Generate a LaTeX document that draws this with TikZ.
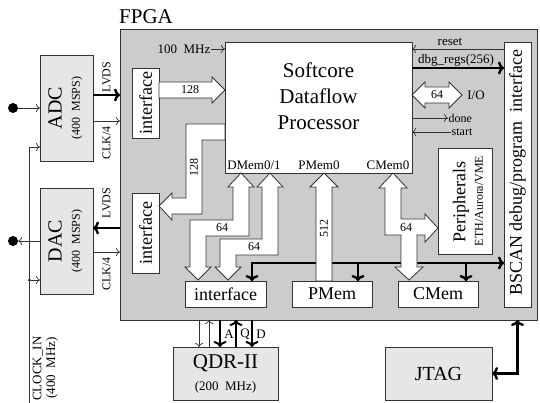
\documentclass[tikz,border=0pt]{standalone}
\usepackage{fontspec}
\setmainfont{Liberation Serif}
\usetikzlibrary{arrows.meta,calc}
\definecolor{fpgagray}{HTML}{CCCCCC}
\definecolor{chipgray}{HTML}{E6E6E6}
\definecolor{edge}{HTML}{333333}
\newcommand\fsz[2]{\fontsize{#1}{#2}\selectfont}

\begin{document}
\begin{tikzpicture}[x=1pt,y=-1pt,
  blk/.style={draw=edge, line width=0.9pt, inner sep=0pt, outer sep=0pt, fill=white},
  chip/.style={blk, fill=chipgray},
  thinwire/.style={draw=edge, line width=0.7pt, -{To[length=4pt,width=8pt]}},
  thickwire/.style={draw=black, line width=2.4pt, -{To[length=6pt,width=13pt]}},
  boththick/.style={draw=black, line width=2.4pt, {To[length=6pt,width=13pt]}-{To[length=6pt,width=13pt]}},
  wide/.style={draw=edge, line width=0.8pt, fill=white, line join=miter},
  lbl/.style={inner sep=0.5pt, font=\fsz{13}{15}},
  tiny/.style={inner sep=0.5pt, font=\fsz{12}{13}},
  big/.style={inner sep=0pt, font=\fsz{21}{26}},
  mid/.style={inner sep=0pt, font=\fsz{18}{20}},
  small/.style={inner sep=0pt, font=\fsz{12}{14}},
]
\useasboundingbox (0,0) rectangle (540,403);

% FPGA area
\node[blk, fill=fpgagray, minimum width=417pt, minimum height=291pt] (fpga) at (328.5,174.5) {};
\node[anchor=base west, inner sep=0pt, font=\fsz{21}{24}] (fpgalbl) at (119,24) {FPGA};

% external chips
\node[chip, minimum width=53pt, minimum height=106pt] (adc) at (66.5,108) {};
\node[big, font=\fsz{20}{22}, rotate=90] (adct) at (55,108) {ADC};
\node[small, rotate=90] (adcs) at (77,108) {(400~~MSPS)};
\node[chip, minimum width=53pt, minimum height=106pt] (dac) at (66.5,241) {};
\node[big, font=\fsz{20}{22}, rotate=90] (dact) at (55,241) {DAC};
\node[small, rotate=90] (dacs) at (77,241) {(400~~MSPS)};
\node[chip, minimum width=105pt, minimum height=53pt] (qdr) at (225.5,373.5) {};
\node[big] (qdrt) at (225.5,363) {QDR-II};
\node[small, font=\fsz{13}{15}] (qdrs) at (225.5,387) {(200~~MHz)};
\node[chip, minimum width=107pt, minimum height=53pt] (jtag) at (438.5,373.5) {};
\node[big, font=\fsz{20}{22}] (jtagt) at (438.5,374) {JTAG};

% blocks inside the FPGA
\node[blk, minimum width=27pt, minimum height=70pt] (ifA) at (145.5,103) {};
\node[mid, rotate=90] (ifAt) at (145.5,103) {interface};
\node[blk, minimum width=27pt, minimum height=80pt] (ifB) at (145.5,233) {};
\node[mid, rotate=90] (ifBt) at (145.5,233) {interface};
\node[blk, minimum width=187pt, minimum height=131pt] (proc) at (318.5,107.5) {};
\node[big, align=center] (proct) at (318.5,96) {Softcore\\Dataflow\\Processor};
\node[lbl, anchor=base] (dm) at (254,170) {DMem0/1};
\node[lbl, anchor=base] (pm) at (319,170) {PMem0};
\node[lbl, anchor=base] (cm) at (388,170) {CMem0};
\node[blk, minimum width=27pt, minimum height=265pt] (bscan) at (517.5,174.5) {};
\node[mid, rotate=90] (bscant) at (517.5,172.5) {BSCAN~debug/program~~interface};
\node[blk, minimum width=54pt, minimum height=106pt] (periph) at (465,201) {};
\node[mid, rotate=90] (periphA) at (461,202) {Peripherals};
\node[small, rotate=90] (periphB) at (479,201) {ETH/Aurora/VME};
\node[blk, minimum width=81pt, minimum height=26pt] (ifC) at (225.5,294) {};
\node[mid] (ifCt) at (225.5,294) {interface};
\node[blk, minimum width=80pt, minimum height=26pt] (pmem) at (332,294) {};
\node[mid] (pmemt) at (332,294) {PMem};
\node[blk, minimum width=80pt, minimum height=26pt] (cmem) at (438,294) {};
\node[mid] (cmemt) at (438,294) {CMem};

% analog inputs, outputs and clock
\node[circle, fill=black, inner sep=0pt, minimum size=10pt] (ain) at (13,108) {};
\node[circle, fill=black, inner sep=0pt, minimum size=10pt] (aout) at (13,241) {};
\node[circle, fill=black, inner sep=0pt, minimum size=3pt] (clkdot) at (29.5,280) {};
\coordinate (clkin) at (29.5,403);
\draw[thinwire] (ain) -- (adc.west |- ain);
\draw[thinwire] (dac.west |- aout) -- (aout);
\draw[thinwire] (clkin) |- (adc.west |- 0,147);
\draw[thinwire] (clkdot) -- (dac.west |- clkdot);
\node[small, font=\fsz{13}{15}, rotate=90, anchor=west] (clklbl) at (38,401) {CLOCK\_IN};
\node[small, font=\fsz{13}{15}, rotate=90, anchor=west] (clkfreq) at (52,399) {(400~~MHz)};

% converter links
\draw[thickwire] (adc.east |- 0,95) -- (fpga.west |- 0,95);
\draw[thinwire] (adc.east |- 0,121) -- (fpga.west |- 0,121);
\node[small, rotate=90] (l1) at (106.5,77) {LVDS};
\node[small, rotate=90] (l2) at (106.5,143) {CLK/4};
\draw[thickwire] (fpga.west |- 0,228) -- (dac.east |- 0,228);
\draw[thinwire] (dac.east |- 0,252) -- (fpga.west |- 0,252);
\node[small, rotate=90] (l3) at (106.5,203) {LVDS};
\node[small, rotate=90] (l4) at (106.5,274) {CLK/4};

% processor control signals
\node[lbl, anchor=east] (mhz) at (211,49) {100~~MHz};
\draw[thinwire] (mhz.east) -- (proc.west |- mhz.east);
\draw[thinwire] (bscan.west |- 0,49) -- (proc.east |- 0,49);
\node[lbl] (rst) at (450,42) {reset};
\draw[thickwire] (proc.east |- 0,68) -- (bscan.west |- 0,68);
\node[lbl] (dbg) at (456,60) {dbg\_regs(256)};
\node[tiny, anchor=west] (done) at (448,118) {done};
\node[tiny, anchor=west] (start) at (451,132) {start};
\draw[thinwire] (proc.east |- done.west) -- (done.west);
\draw[thinwire] (start.west) -- (proc.east |- start.west);

% memory bus from the debug interface
\draw[boththick] (ifC.north -| 252,0) |- (bscan.west |- 0,263);
\draw[thickwire] (358,263) -- (pmem.north -| 358,0);
\draw[thickwire] (466,263) -- (cmem.north -| 466,0);

% wide data paths
\draw[wide] (ifA.east |- 0,82) -- (212,82) -- (212,77) -- (proc.west |- 0,90)
  -- (212,103) -- (212,98) -- (ifA.east |- 0,98) -- cycle;
\node[small] (w1) at (190,90) {128};
\draw[wide] (proc.west |- 0,124) -- (186,124) -- (186,198) -- (172,198) -- (172,193)
  -- (ifB.east |- 0,206) -- (172,220) -- (172,214) -- (202,214) -- (202,140)
  -- (proc.west |- 0,140) -- cycle;
\node[small, rotate=90] (w2) at (194,168) {128};
\draw[wide] (241,173) -- (254,187) -- (249,187) -- (249,236) -- (206,236) -- (206,267)
  -- (211,267) -- (198,280) -- (185,267) -- (190,267) -- (190,220) -- (233,220)
  -- (233,187) -- (228,187) -- cycle;
\node[small] (w3) at (222,228) {64};
\draw[wide] (270,173) -- (283,187) -- (278,187) -- (278,255) -- (236,255) -- (236,267)
  -- (241,267) -- (228,280) -- (215,267) -- (220,267) -- (220,239) -- (262,239)
  -- (262,187) -- (257,187) -- cycle;
\node[small] (w4) at (254,247) {64};
\draw[wide] (324,173) -- (338,187) -- (332,187) -- (332,281) -- (316,281) -- (316,187)
  -- (310,187) -- cycle;
\node[small, rotate=90] (w5) at (324,228) {512};
\draw[wide] (393,173) -- (407,188) -- (401,188) -- (401,219) -- (425,219) -- (425,214)
  -- (438,228) -- (425,242) -- (425,235) -- (417,235) -- (417,267) -- (423,267)
  -- (409,280) -- (395,267) -- (401,267) -- (401,235) -- (385,235) -- (385,188)
  -- (379,188) -- cycle;
\node[small] (w6) at (406,228) {64};
\draw[wide] (412,95) -- (425,82) -- (425,87) -- (449,87) -- (449,82) -- (462,95)
  -- (449,108) -- (449,103) -- (425,103) -- (425,108) -- cycle;
\node[small] (w7) at (437,95) {64};
\node[lbl] (io) at (476,95) {I/O};

% QDR-II links
\draw[thinwire] (fpga.south -| 199,0) -- (qdr.north -| 199,0);
\draw[thinwire] (qdr.north -| 209,0) -- (fpga.south -| 209,0);
\draw[thickwire, line width=2pt] (fpga.south -| 220,0) -- (qdr.north -| 220,0);
\draw[thickwire, line width=2pt] (qdr.north -| 236,0) -- (fpga.south -| 236,0);
\draw[thickwire, line width=2pt] (fpga.south -| 252,0) -- (qdr.north -| 252,0);
\node[lbl] (qa) at (229,334) {A};
\node[lbl] (qq) at (245,334) {Q};
\node[lbl] (qd) at (261,334) {D};

% JTAG link
\draw[boththick] (jtag.east) -| (fpga.south -| 517.5,0);
\end{tikzpicture}
\end{document}
